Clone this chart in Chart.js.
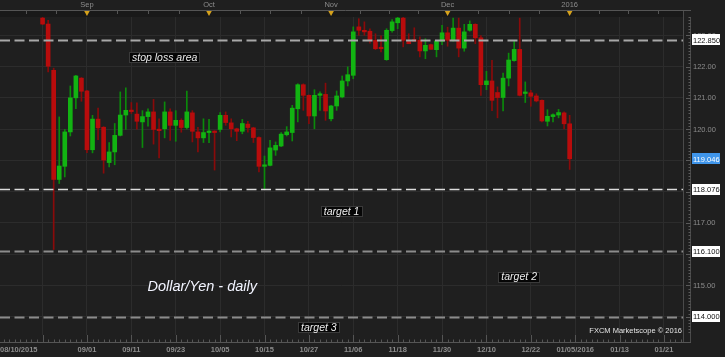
<!DOCTYPE html>
<html>
<head>
<meta charset="utf-8">
<script src="https://cdn.jsdelivr.net/npm/chart.js@4.4.1/dist/chart.umd.min.js"></script>
<style>
  html, body { margin: 0; padding: 0; background: #1f1f1f; }
  canvas { display: block; }
</style>
</head>
<body>
<canvas id="chart" width="725" height="357"></canvas>
<script>
const d = document;
/*
    DATOS (USD/JPY diario, dias habiles contados desde 08/10/2015)
*/
const firstDay = 8; // primera vela = 08/20/2015
const opens = [
  123.55, 123.36, 121.88, 118.39, 118.81, 119.91, 121.0, 121.63, 121.22, 119.34,
  120.32, 120.06, 118.93, 119.27, 119.8, 120.45, 120.6, 120.48, 120.23, 120.4,
  120.55, 119.99, 120.01, 120.55, 120.12, 120.28, 120.05, 120.52, 119.91, 119.72,
  119.89, 119.93, 119.99, 120.44, 120.2, 120.01, 119.93, 120.16, 120.04, 119.73,
  118.81, 118.84, 119.33, 119.46, 119.82, 119.89, 120.65, 121.42, 121.08, 120.42,
  121.08, 121.11, 120.33, 120.74, 121.03, 121.54, 121.72, 123.27, 123.16, 123.13,
  122.84, 122.6, 122.22, 123.15, 123.4, 123.55, 122.84, 122.85, 122.84, 122.5,
  122.7, 122.54, 122.81, 123.08, 122.84, 123.23, 122.59, 123.16, 123.35, 122.92,
  121.42, 121.54, 121.17, 121.01, 121.63, 122.19, 122.55, 121.14, 121.16, 121.06,
  120.92, 120.25, 120.4, 120.45, 120.52, 120.17
];
const highs = [
  123.65, 123.48, 121.95, 120.39, 119.99, 121.38, 121.72, 121.65, 121.24, 120.44,
  120.67, 120.08, 119.57, 120.18, 121.19, 121.32, 120.85, 120.84, 120.59, 120.65,
  120.95, 120.33, 120.87, 120.65, 120.59, 120.33, 121.22, 120.59, 120.06, 120.33,
  120.31, 119.95, 120.53, 120.55, 120.33, 120.03, 120.31, 120.25, 120.06, 119.75,
  119.14, 119.64, 119.59, 119.89, 120.08, 120.76, 121.45, 121.45, 121.1, 121.26,
  121.19, 121.47, 120.76, 121.22, 121.7, 121.99, 123.27, 123.53, 123.43, 123.21,
  123.05, 122.98, 123.21, 123.5, 123.6, 123.62, 123.05, 123.24, 122.95, 122.89,
  122.72, 122.84, 123.32, 123.26, 123.55, 123.55, 123.35, 123.46, 123.37, 122.99,
  121.85, 122.2, 121.35, 121.79, 122.43, 122.84, 123.55, 121.51, 121.24, 121.13,
  120.94, 120.62, 120.49, 120.63, 120.55, 120.44
];
const lows = [
  123.34, 121.83, 116.15, 118.26, 118.47, 119.78, 120.65, 120.89, 119.25, 119.24,
  119.66, 118.59, 118.79, 118.86, 119.78, 119.99, 120.5, 120.0, 119.41, 120.09,
  119.52, 119.08, 119.72, 119.64, 119.61, 119.9, 120.01, 119.59, 119.27, 119.57,
  119.57, 118.69, 119.91, 120.12, 119.75, 119.63, 119.85, 119.9, 119.57, 118.63,
  118.07, 118.82, 119.16, 119.44, 119.78, 119.62, 120.23, 120.6, 120.17, 120.01,
  120.6, 120.28, 120.26, 120.6, 121.0, 121.38, 121.61, 123.0, 123.0, 122.75,
  122.54, 122.47, 122.2, 123.1, 123.21, 122.63, 122.73, 122.8, 122.31, 122.25,
  122.55, 122.31, 122.7, 122.65, 122.81, 122.31, 122.49, 123.13, 122.73, 121.08,
  121.26, 120.59, 120.36, 120.58, 121.38, 122.17, 121.06, 120.85, 120.73, 120.87,
  120.23, 120.1, 120.23, 120.36, 120.01, 118.71
];
const closes = [
  123.36, 122.01, 118.39, 118.82, 119.91, 121.0, 121.7, 121.21, 119.34, 120.32,
  120.04, 119.01, 119.27, 119.8, 120.45, 120.6, 120.56, 120.25, 120.4, 120.55,
  119.99, 119.95, 120.55, 120.12, 120.28, 120.05, 120.55, 119.93, 119.72, 119.89,
  119.93, 119.89, 120.44, 120.21, 120.01, 119.93, 120.18, 120.05, 119.73, 118.81,
  118.85, 119.4, 119.48, 119.84, 119.91, 120.67, 121.42, 121.08, 120.42, 121.08,
  121.13, 120.58, 120.74, 121.06, 121.54, 121.74, 123.11, 123.16, 123.11, 122.84,
  122.57, 122.57, 123.16, 123.43, 123.55, 122.84, 122.73, 122.81, 122.5, 122.68,
  122.55, 122.82, 123.08, 122.84, 123.23, 122.59, 123.11, 123.35, 122.92, 121.42,
  121.54, 120.92, 121.01, 121.63, 122.21, 122.55, 121.08, 121.16, 121.05, 120.9,
  120.26, 120.41, 120.46, 120.53, 120.17, 119.05
];

const dayTickPos = [0, 16, 24, 32, 40, 48, 56, 64, 72, 80, 88, 96, 104, 112, 120];
const dayTickText = ['08/10/2015', '09/01', '09/11', '09/23', '10/05', '10/15', '10/27', '11/06',
  '11/18', '11/30', '12/10', '12/22', '01/05/2016', '01/13', '01/21'];
const monthPos = [16, 38, 60, 81, 103];
const monthText = ['Sep', 'Oct', 'Nov', 'Dec', '2016'];
const priceTicks = [114, 115, 116, 117, 118, 119, 120, 121, 122, 123];
const levels = [122.85, 118.076, 116.1, 114.0];
const levelText = ['122.850', '118.076', '116.100', '114.000'];
const lastPrice = 119.046;
const noteText = ['stop loss area', 'target 1', 'target 2', 'target 3'];
const titleText = 'Dollar/Yen - daily';
const creditText = 'FXCM Marketscope \u00a9 2016';

/*
    ESTILOS
*/
const COLORS = {
  bg: '#1f1f1f',
  grid: '#2c2c2c',
  axisText: '#8c8c8c',
  up: '#12b312',
  down: '#b80c0c',
  upWick: '#0b8a0b',
  downWick: '#8a0a0a',
  levels: ['#a8a8a8', '#dcdcdc', '#8c8c8c', '#8c8c8c'],
  marker: '#d6a21c',
  priceBox: '#3f95ea'
};
// anclas de los textos en unidades de datos (dia, precio)
const NOTES_AT = [[30, 122.29], [61.9, 117.36], [93.9, 115.27], [57.8, 113.64]];
const TITLE_AT = [26.9, 114.83];

/*
    FUNCIONES
*/
const candles = opens.map((o, i) => ({ x: firstDay + i, o, h: highs[i], l: lows[i], c: closes[i] }));

const textBox = (ctx, text, cx, cy) => {
  ctx.font = 'italic 10.5px "Liberation Sans"';
  const w = ctx.measureText(text).width + 6;
  const h = 11;
  ctx.fillStyle = '#060606';
  ctx.fillRect(Math.round(cx - w / 2), Math.round(cy - h / 2), Math.round(w), h);
  ctx.strokeStyle = '#3a3a3a';
  ctx.lineWidth = 1;
  ctx.strokeRect(Math.round(cx - w / 2) + 0.5, Math.round(cy - h / 2) + 0.5, Math.round(w) - 1, h - 1);
  ctx.fillStyle = '#ececec';
  ctx.textAlign = 'center';
  ctx.textBaseline = 'middle';
  ctx.fillText(text, cx, cy + 0.5);
};

const valueBox = (ctx, text, x, y, bg, fg) => {
  ctx.fillStyle = bg;
  ctx.fillRect(x, Math.round(y - 5.5), 28, 11);
  ctx.fillStyle = fg;
  ctx.font = '7.5px "Liberation Sans"';
  ctx.textAlign = 'left';
  ctx.textBaseline = 'middle';
  ctx.fillText(text, x + 1, y + 0.5);
};

const decor = {
  id: 'decor',
  beforeDraw(chart) {
    const { ctx, width, height, chartArea: a } = chart;
    ctx.save();
    ctx.fillStyle = COLORS.bg;
    ctx.fillRect(0, 0, width, height);
    // banda superior
    ctx.fillStyle = '#191919';
    ctx.fillRect(0, 10, a.right, a.top - 10);
    ctx.restore();
  },
  afterDatasetsDraw(chart) {
    const { ctx, chartArea: a, scales: { x, y } } = chart;
    ctx.save();
    ctx.beginPath();
    ctx.rect(a.left, a.top, a.right - a.left, a.bottom - a.top);
    ctx.clip();
    levels.forEach((v, i) => {
      const py = Math.round(y.getPixelForValue(v)) + 0.5;
      ctx.strokeStyle = COLORS.levels[i];
      ctx.lineWidth = i === 1 ? 1.5 : 2;
      ctx.setLineDash([10, 4.5]);
      ctx.beginPath();
      ctx.moveTo(a.left, py);
      ctx.lineTo(a.right, py);
      ctx.stroke();
    });
    ctx.setLineDash([]);
    noteText.forEach((t, i) => {
      textBox(ctx, t, x.getPixelForValue(NOTES_AT[i][0]), y.getPixelForValue(NOTES_AT[i][1]));
    });
    ctx.font = 'italic 14.5px "Liberation Sans"';
    ctx.fillStyle = '#f2f4ff';
    ctx.textAlign = 'left';
    ctx.textBaseline = 'alphabetic';
    ctx.fillText(titleText, x.getPixelForValue(TITLE_AT[0]), y.getPixelForValue(TITLE_AT[1]));
    ctx.font = '7.5px "Liberation Sans"';
    ctx.fillStyle = '#e4e4e4';
    ctx.textAlign = 'right';
    ctx.textBaseline = 'middle';
    ctx.fillText(creditText, a.right - 1, a.bottom - 4);
    ctx.restore();
  },
  afterDraw(chart) {
    const { ctx, chartArea: a, scales: { x, y } } = chart;
    ctx.save();
    // eje derecho
    ctx.strokeStyle = '#4a4a4a';
    ctx.lineWidth = 1;
    ctx.beginPath();
    ctx.moveTo(a.right + 0.5, 10);
    ctx.lineTo(a.right + 0.5, a.bottom + 7);
    ctx.moveTo(a.right + 7.5, a.top);
    ctx.lineTo(a.right + 7.5, a.bottom + 7);
    ctx.stroke();
    ctx.strokeStyle = '#5a5a5a';
    ctx.beginPath();
    for (let v = 113.5; v <= 123.6; v += 0.1) {
      const py = Math.round(y.getPixelForValue(v)) + 0.5;
      if (py < a.top || py > a.bottom) continue;
      const major = Math.abs(v - Math.round(v)) < 0.01;
      ctx.moveTo(a.right + 7.5, py);
      ctx.lineTo(a.right + (major ? 3 : 5.5), py);
    }
    ctx.stroke();
    ctx.font = '7.5px "Liberation Sans"';
    ctx.fillStyle = COLORS.axisText;
    ctx.textAlign = 'left';
    ctx.textBaseline = 'middle';
    priceTicks.forEach((v) => {
      ctx.fillText(v.toFixed(2), a.right + 10, y.getPixelForValue(v) + 0.5);
    });
    levels.forEach((v, i) => {
      valueBox(ctx, levelText[i], a.right + 9, y.getPixelForValue(v), '#ffffff', '#111111');
    });
    valueBox(ctx, lastPrice.toFixed(3), a.right + 9, y.getPixelForValue(lastPrice), COLORS.priceBox, '#ffffff');

    // eje inferior
    const base = a.bottom + 7;
    ctx.strokeStyle = '#555555';
    ctx.beginPath();
    ctx.moveTo(a.left, base + 0.5);
    ctx.lineTo(a.right + 8, base + 0.5);
    for (let i = 0; i <= 123; i++) {
      const px = Math.round(x.getPixelForValue(i)) + 0.5;
      if (px < a.left || px > a.right) continue;
      ctx.moveTo(px, base);
      ctx.lineTo(px, base - (i % 8 === 0 ? 7 : 2.5));
    }
    ctx.stroke();
    ctx.fillStyle = COLORS.axisText;
    ctx.font = 'bold 7.5px "Liberation Sans"';
    ctx.textBaseline = 'middle';
    dayTickPos.forEach((v, i) => {
      ctx.textAlign = i === 0 ? 'left' : 'center';
      const px = i === 0 ? a.left : x.getPixelForValue(v);
      ctx.fillText(dayTickText[i], px, base + 8);
    });

    // eje superior (meses)
    ctx.strokeStyle = '#555555';
    ctx.beginPath();
    ctx.moveTo(a.left, 10.5);
    ctx.lineTo(a.right + 8, 10.5);
    for (let m = 0; m < monthPos.length; m++) {
      const from = m === 0 ? monthPos[0] - 22 : monthPos[m - 1];
      const step = (monthPos[m] - from) / 4;
      for (let k = 0; k < 4; k++) {
        const px = Math.round(x.getPixelForValue(from + k * step)) + 0.5;
        if (px < a.left) continue;
        ctx.moveTo(px, 10.5);
        ctx.lineTo(px, 14);
      }
    }
    for (let k = 1; k <= 4; k++) {
      const px = Math.round(x.getPixelForValue(monthPos[4] + k * 5.3)) + 0.5;
      if (px > a.right) continue;
      ctx.moveTo(px, 10.5);
      ctx.lineTo(px, 14);
    }
    ctx.stroke();
    ctx.font = '7.5px "Liberation Sans"';
    ctx.fillStyle = COLORS.axisText;
    ctx.textAlign = 'center';
    monthPos.forEach((v, i) => {
      const px = x.getPixelForValue(v);
      ctx.fillText(monthText[i], px, 5);
      ctx.fillStyle = COLORS.marker;
      ctx.beginPath();
      ctx.moveTo(px - 2.8, 11);
      ctx.lineTo(px + 2.8, 11);
      ctx.lineTo(px, 16);
      ctx.closePath();
      ctx.fill();
      ctx.fillStyle = COLORS.axisText;
    });
    ctx.restore();
  }
};

const drawChart = () => {
  const ctx = d.getElementById('chart').getContext('2d');
  return new Chart(ctx, {
    type: 'bar',
    plugins: [decor],
    data: {
      datasets: [
        {
          label: 'wicks',
          data: candles.map((k) => ({ x: k.x, y: [k.l, k.h] })),
          backgroundColor: candles.map((k) => (k.c >= k.o ? COLORS.upWick : COLORS.downWick)),
          barThickness: 1,
          grouped: false,
          order: 2
        },
        {
          label: 'bodies',
          data: candles.map((k) => ({ x: k.x, y: [k.o, k.c] })),
          backgroundColor: candles.map((k) => (k.c >= k.o ? COLORS.up : COLORS.down)),
          barThickness: 4,
          minBarLength: 1.5,
          grouped: false,
          order: 1
        }
      ]
    },
    options: {
      responsive: false,
      animation: false,
      devicePixelRatio: 1,
      layout: { padding: { left: 0, right: 42, top: 17, bottom: 22 } },
      plugins: { legend: { display: false }, tooltip: { enabled: false } },
      scales: {
        x: {
          type: 'linear',
          min: 0.3245,
          max: 123.43,
          offset: false,
          afterBuildTicks: (scale) => {
            scale.ticks = dayTickPos.concat([8]).filter((v) => v >= scale.min).map((v) => ({ value: v }));
          },
          ticks: { display: false },
          grid: { color: COLORS.grid, offset: false, drawTicks: false },
          border: { display: false }
        },
        y: {
          type: 'linear',
          min: 113.416,
          max: 123.585,
          beginAtZero: false,
          afterBuildTicks: (scale) => {
            scale.ticks = priceTicks.map((v) => ({ value: v }));
          },
          ticks: { display: false },
          grid: { color: COLORS.grid, drawTicks: false },
          border: { display: false }
        }
      }
    }
  });
};

drawChart();
</script>
</body>
</html>
